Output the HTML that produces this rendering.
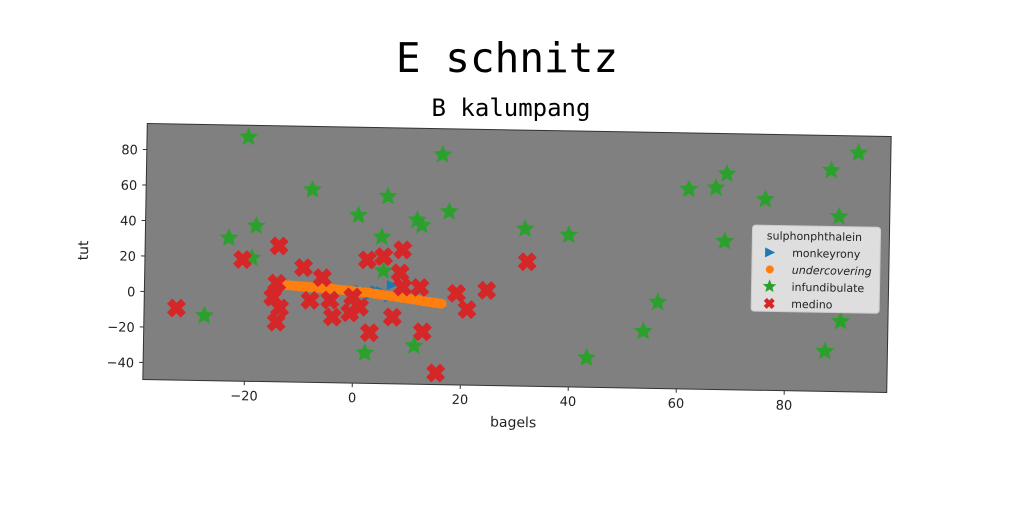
<!DOCTYPE html>
<html><head><meta charset="utf-8"><style>
html,body{margin:0;padding:0;background:#fff;}
svg{display:block;font-family:"DejaVu Sans","Liberation Sans",sans-serif;}
</style></head><body>
<svg width="1024" height="512" viewBox="0 0 1024 512">
<text x="507" y="72" text-anchor="middle" font-family="DejaVu Sans Mono, Liberation Mono, monospace" font-size="41" fill="#000">E schnitz</text>
<text x="511" y="116" text-anchor="middle" font-family="DejaVu Sans Mono, Liberation Mono, monospace" font-size="24" fill="#000">B kalumpang</text>
<g id="plot" transform="rotate(1,517,258)">
<rect x="145" y="130" width="744" height="256" fill="#808080" stroke="#333" stroke-width="1"/>
<g id="ticks"></g>
<g id="marks"></g>
<text x="516" y="427" text-anchor="middle" font-size="14" fill="#222">bagels</text>
<text transform="translate(88,258) rotate(-90)" text-anchor="middle" font-size="14" fill="#222">tut</text>
<g>
<rect x="752" y="221" width="128" height="86" rx="3" fill="#e8e8e8" fill-opacity="0.9" stroke="#ccc"/>
<text x="814" y="235" text-anchor="middle" font-size="11" fill="#222">sulphonphthalein</text>
<g><path d="M765,243 L775,248 L765,253 Z" fill="#1f77b4"/><text x="792" y="252" font-size="11" fill="#222">monkeyrony</text></g>
<g><circle cx="770" cy="265" r="4" fill="#ff7f0e"/><text x="792" y="269" font-size="11" font-style="italic" fill="#222">undercovering</text></g>
<g><path id="lgstar" fill="#2ca02c"/><text x="792" y="286" font-size="11" fill="#222">infundibulate</text></g>
<g><path id="lgx" fill="#d62728"/><text x="792" y="303" font-size="11" fill="#222">medino</text></g>
</g>
</g>
</svg>
<script>
const xTicks=[-20,0,20,40,60,80];
const yTicks=[-40,-20,0,20,40,60,80];
const starX=[-20,16,-8,6,0.6,11.5,17.4,12.4,-23.3,-18.3,-19,5,5.4,31.5,39.6,61.7,66.7,68.7,75.9,68.5,88,93,89.6,53.7,56.3,43.3,90.2,87.4,2.2,11.3,-27.6];
const starY=[88,80,59,56,45,43,48,40,31,38,20,33,14,39,36,63,64,72,58,34,75,85,49,-17.5,-1,-33,-10,-27,-32.5,-28,-13];
const crossX=[-32.8,-14,-20.7,-9.4,-5.9,-14.3,-15,-13.7,-14.3,-8.1,-4.4,-3.9,-0.7,1.1,-0.2,2.4,5.4,8.9,8.5,9,12.2,7.2,3,12.8,15.4,19,21,24.6,32];
const crossY=[-9,27,19,15,9.5,6,-2,-8,-16,-3.3,-3,-12.5,-10,-6.7,-1,20,22,26,13,5,5,-12,-21,-20,-43,2,-7,4,20.5];
const triX=[1,2.5,4,5,6,7,8,6.5,3];
const triY=[3,2,3,2.5,1,6,0,-1,0];
const dotX=[-13,-12,-11,-10,-9,-8,-7,-6,-5,-4,-3,-2,-1,0,1,2,3,4,5,6,7,8,9,10,11,12,13,14,15,16];
const dotY=[5,4.9,4.7,4.5,4.3,4.1,3.9,3.7,3.5,3.3,3,2.8,2.5,2.2,2,1.7,1.4,1,0.6,0.2,-0.2,-0.6,-1,-1.4,-1.8,-2.2,-2.7,-3.1,-3.5,-3.9];
const sx=v=>354.5+v*5.4, sy=v=>298-v*1.775;
const NS='http://www.w3.org/2000/svg';
const tk=document.getElementById('ticks'), mk=document.getElementById('marks');
function mkEl(t,attrs,parent){const e=document.createElementNS(NS,t);for(const k in attrs)e.setAttribute(k,attrs[k]);parent.appendChild(e);return e;}
function starPath(cx,cy,R){let d='';for(let i=0;i<10;i++){const r=i%2?R*0.45:R;const a=-Math.PI/2+i*Math.PI/5;d+=(i?'L':'M')+(cx+r*Math.cos(a)).toFixed(1)+','+(cy+r*Math.sin(a)).toFixed(1);}return d+'Z';}
function crossPath(cx,cy,s){const a=s*0.55;const pts=[[-s,-s+a],[-s+a,-s],[0,-a],[s-a,-s],[s,-s+a],[a,0],[s,s-a],[s-a,s],[0,a],[-s+a,s],[-s,s-a],[-a,0]];return 'M'+pts.map(p=>(cx+p[0]).toFixed(1)+','+(cy+p[1]).toFixed(1)).join('L')+'Z';}
xTicks.forEach(v=>{
  const l=mkEl('line',{x1:sx(v),x2:sx(v),y1:386,y2:390,stroke:'#333'},tk);
  
  
  const t=mkEl('text',{x:sx(v),y:405,'text-anchor':'middle','font-size':13,fill:'#222'},tk);
  t.textContent=v<0?'\u2212'+(-v):v;
  
  
});
yTicks.forEach(v=>{
  const l=mkEl('line',{x1:141,x2:145,y1:sy(v),y2:sy(v),stroke:'#333'},tk);
  
  
  const t=mkEl('text',{x:136,y:sy(v)+5,'text-anchor':'end','font-size':13,fill:'#222'},tk);
  t.textContent=v<0?'\u2212'+(-v):v;
  
  
});
triX.forEach((v,i)=>{const cx=sx(v),cy=sy(triY[i]);
  const p=mkEl('path',{d:`M${cx-5},${cy-5}L${cx+6},${cy}L${cx-5},${cy+5}Z`,fill:'#1f77b4'},mk);
  
  });
dotX.forEach((v,i)=>{
  const c=mkEl('ellipse',{cx:sx(v),cy:sy(dotY[i]),rx:6.5,ry:5,fill:'#ff7f0e'},mk);
  
  });
starX.forEach((v,i)=>{
  const p=mkEl('path',{d:starPath(sx(v),sy(starY[i]),10),fill:'#2ca02c'},mk);
  
  });
crossX.forEach((v,i)=>{
  const p=mkEl('path',{d:crossPath(sx(v),sy(crossY[i]),9.5),fill:'#d62728'},mk);
  
  });
document.getElementById('lgstar').setAttribute('d',starPath(770,282,7));
document.getElementById('lgx').setAttribute('d',crossPath(770,299,5.5));
</script>
</body></html>
